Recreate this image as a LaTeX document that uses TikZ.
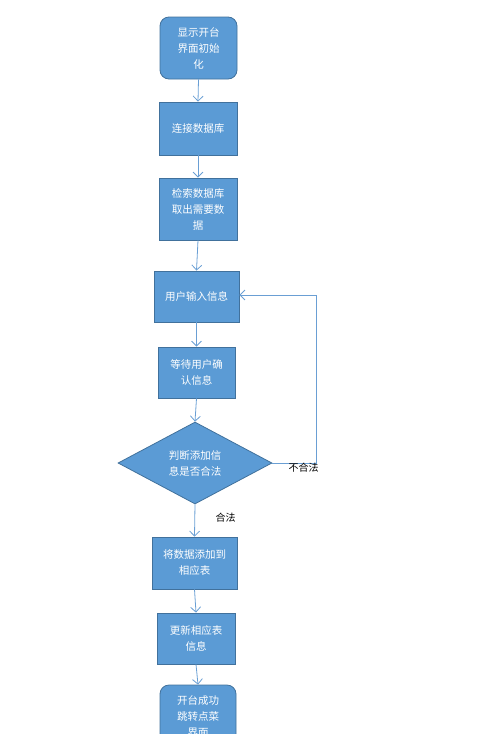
\documentclass[tikz,border=0pt]{standalone}
\usepackage{fontspec}
\setmainfont{Noto Sans CJK SC}
\usetikzlibrary{arrows.meta,shapes.geometric}
\definecolor{boxfill}{HTML}{5B9BD5}
\definecolor{boxline}{HTML}{41719C}
\definecolor{arrowc}{HTML}{6A9FD4}
\tikzset{
  x=1pt,y=-1pt,
  base/.style={fill=boxfill,draw=boxline,line width=0.8pt,text=white,align=center,
    font=\fontsize{10.5}{16}\selectfont,inner sep=0pt},
  proc/.style={base,rectangle},
  term/.style={base,rectangle,rounded corners=9pt},
  dec/.style={base,diamond},
  conn/.style={draw=arrowc,line width=0.8pt,-{Straight Barb[length=5pt,width=10pt]}},
  lbl/.style={font=\fontsize{10}{12}\selectfont,text=black,inner sep=0pt}
}
\begin{document}
\begin{tikzpicture}
\useasboundingbox (0,0) rectangle (491,734);
\node[term,minimum width=77pt,minimum height=62pt] (n1) at (198.5,48) {显示开台\\界面初始\\化};
\node[proc,minimum width=78pt,minimum height=53pt] (n2) at (198,128.5) {连接数据库};
\node[proc,minimum width=78pt,minimum height=62pt] (n3) at (198,209) {检索数据库\\取出需要数\\据};
\node[proc,minimum width=85pt,minimum height=51pt] (n4) at (196.5,296.5) {用户输入信息};
\node[proc,minimum width=77pt,minimum height=51pt] (n5) at (196.5,372.5) {等待用户确\\认信息};
\node[dec,minimum width=154pt,minimum height=82pt,aspect=1.88] (d) at (195,463) {判断添加信\\息是否合法};
\node[proc,minimum width=85pt,minimum height=52pt] (n6) at (194.5,563) {将数据添加到\\相应表};
\node[proc,minimum width=78pt,minimum height=51pt] (n7) at (196,638.5) {更新相应表\\信息};
\node[term,minimum width=76pt,minimum height=64pt] (n8) at (198,717) {开台成功\\跳转点菜\\界面};
\coordinate (c1) at (316,463);
\coordinate (c2) at (316,295);
\draw[conn] (n1.south) -- (n2.north);
\draw[conn] (n2.south) -- (n3.north);
\draw[conn] (n3.south) -- (n4.north);
\draw[conn] (n4.south) -- (n5.north);
\draw[conn] (n5.south) -- (d.north);
\draw[conn] (d.south) -- (n6.north);
\draw[conn] (n6.south) -- (n7.north);
\draw[conn] (n7.south) -- (n8.north);
\draw[conn] (d.east) -- (c1) -- (c2) -- (n4.east |- c2);
\node[lbl] (l1) at (303.5,468) {不合法};
\node[lbl] (l2) at (225.5,518) {合法};
\end{tikzpicture}
\end{document}
